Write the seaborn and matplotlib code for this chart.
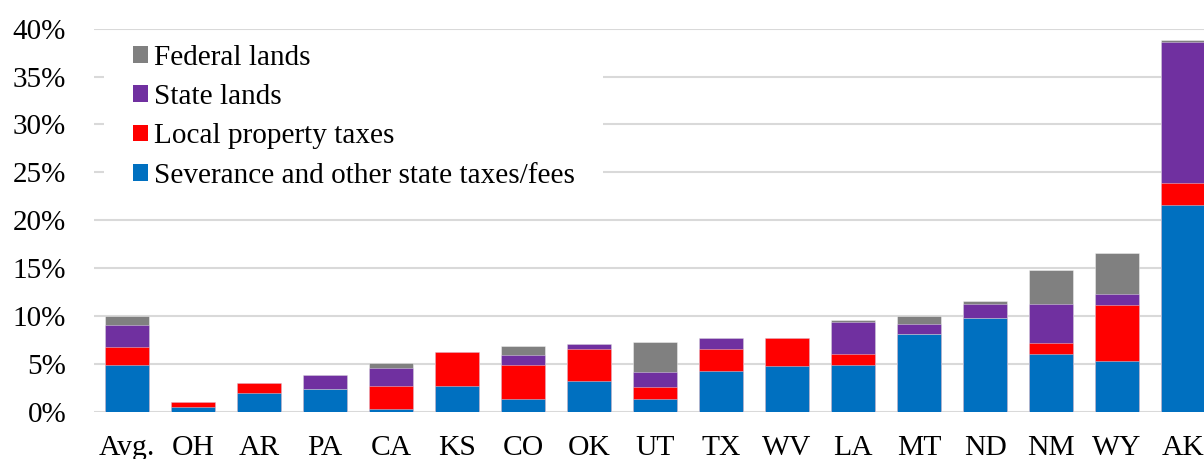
import numpy as np
import pandas as pd
import seaborn as sns
import matplotlib
matplotlib.use("Agg")
import matplotlib.pyplot as plt
from matplotlib.patches import Rectangle, Patch

states = ["Avg.", "OH", "AR", "PA", "CA", "KS", "CO", "OK", "UT", "TX", "WV",
          "LA", "MT", "ND", "NM", "WY", "AK"]
severance = [4.9, 0.5, 2.0, 2.35, 0.3, 2.65, 1.3, 3.2, 1.35, 4.2, 4.75, 4.85, 8.15, 9.8, 6.05, 5.3, 21.55]
local_tax = [1.9, 0.5, 0.95, 0.0, 2.35, 3.55, 3.6, 3.3, 1.2, 2.3, 2.9, 1.15, 0.0, 0.0, 1.1, 5.8, 2.3]
state_lands = [2.3, 0.0, 0.0, 1.45, 1.95, 0.0, 1.0, 0.55, 1.6, 1.15, 0.0, 3.4, 1.05, 1.4, 4.1, 1.2, 14.8]
federal_lands = [0.9, 0.0, 0.0, 0.0, 0.5, 0.0, 1.0, 0.0, 3.1, 0.0, 0.0, 0.15, 0.8, 0.4, 3.5, 4.25, 0.15]

series_names = ["Severance and other state taxes/fees", "Local property taxes",
                "State lands", "Federal lands"]
colors = ["#0070C0", "#FF0000", "#7030A0", "#808080"]

sns.set_style("white")
plt.rcParams['font.family'] = ['Liberation Serif', 'DejaVu Serif']
plt.rcParams['text.color'] = 'black'
plt.rcParams['xtick.color'] = 'black'
plt.rcParams['ytick.color'] = 'black'

df = pd.DataFrame({"state": states, "s0": severance, "s1": local_tax,
                   "s2": state_lands, "s3": federal_lands})
cum = df[["s0", "s1", "s2", "s3"]].cumsum(axis=1)

fig = plt.figure(figsize=(12.04, 4.59), dpi=100)
ax = fig.add_axes([94 / 1204, (459 - 411.7) / 459, 1 - 94 / 1204, 383 / 459])

for i in [3, 2, 1, 0]:
    sns.barplot(x=df["state"], y=cum[f"s{i}"], color=colors[i], saturation=1,
                width=0.667, ax=ax, edgecolor=(1, 1, 1, 0.45), linewidth=0.6,
                order=states, zorder=2)

ax.set_xlim(-0.5, 16.318)
ax.set_ylim(0, 40)
ax.set_yticks(np.arange(0, 41, 5))
ax.set_yticklabels([f"{v}%" for v in range(0, 41, 5)])
ax.set_xlabel("")
ax.set_ylabel("")
ax.grid(axis="y", color="#d9d9d9", linewidth=1.5)
ax.grid(axis="x", visible=False)
ax.set_axisbelow(True)
for sp in ax.spines.values():
    sp.set_visible(False)
ax.tick_params(axis="y", length=0, pad=20, labelsize=21)
ax.tick_params(axis="x", length=0, pad=17, labelsize=21.3)

# white box behind the legend hiding gridlines
box = Rectangle((104 / 1204, (459 - 198) / 459), (603 - 104) / 1204, (198 - 34) / 459,
                transform=fig.transFigure, facecolor="white", edgecolor="none",
                zorder=1.5, clip_on=False)
ax.add_patch(box)

handles = [Patch(facecolor=colors[i], edgecolor="none") for i in [3, 2, 1, 0]]
labels = [series_names[i] for i in [3, 2, 1, 0]]
leg = ax.legend(handles, labels, loc="upper left",
                bbox_to_anchor=(133 / 1204, (459 - 45) / 459),
                bbox_transform=fig.transFigure, frameon=False, fontsize=21.1,
                handlelength=0.5, handleheight=0.5, handletextpad=0.2,
                labelspacing=0.45, borderpad=0, borderaxespad=0)

fig.savefig("out.png", dpi=100)
